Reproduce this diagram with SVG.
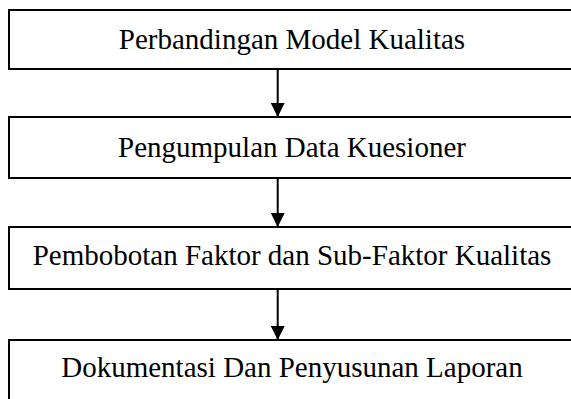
<svg xmlns="http://www.w3.org/2000/svg" width="571" height="399" viewBox="0 0 571 399">
<style>
.box{fill:#fff;stroke:#000;stroke-width:2}
.lbl{font-family:"Liberation Serif","Times New Roman",serif;font-size:29px;fill:#000;text-anchor:middle}
.conn{stroke:#000;stroke-width:2;fill:none}
</style>
<defs>
<marker id="ah" viewBox="0 0 14 14" refX="14" refY="7" markerWidth="14" markerHeight="14" markerUnits="userSpaceOnUse" orient="auto">
<path d="M0,0 L14,7 L0,14 Z" fill="#000"/>
</marker>
</defs>
<g id="n1"><rect class="box" x="9" y="10" width="570" height="59"/><text class="lbl" x="292" y="49.3">Perbandingan Model Kualitas</text></g>
<g id="n2"><rect class="box" x="9" y="117" width="570" height="61"/><text class="lbl" x="292" y="156.5">Pengumpulan Data Kuesioner</text></g>
<g id="n3"><rect class="box" x="9" y="227" width="570" height="62"/><text class="lbl" x="292" y="265">Pembobotan Faktor dan Sub-Faktor Kualitas</text></g>
<g id="n4"><rect class="box" x="9" y="340" width="570" height="70"/><text class="lbl" x="292" y="376.7">Dokumentasi Dan Penyusunan Laporan</text></g>
<g id="connectors">
<line class="conn" x1="277.7" y1="69" x2="277.7" y2="117" marker-end="url(#ah)"/>
<line class="conn" x1="277.7" y1="178" x2="277.7" y2="227" marker-end="url(#ah)"/>
<line class="conn" x1="277.7" y1="289" x2="277.7" y2="340" marker-end="url(#ah)"/>
</g>
</svg>
